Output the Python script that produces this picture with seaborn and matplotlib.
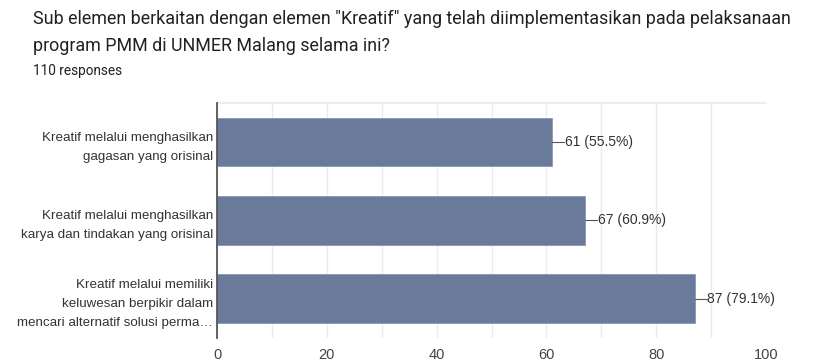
import matplotlib
matplotlib.use("Agg")
import matplotlib.pyplot as plt
import seaborn as sns
import pandas as pd

categories = [
    "Kreatif melalui menghasilkan\ngagasan yang orisinal",
    "Kreatif melalui menghasilkan\nkarya dan tindakan yang orisinal",
    "Kreatif melalui memiliki\nkeluwesan berpikir dalam\nmencari alternatif solusi perma\u2026",
]
counts = [61, 67, 87]
percents = ["55.5%", "60.9%", "79.1%"]
title_lines = [
    'Sub elemen berkaitan dengan elemen "Kreatif" yang telah diimplementasikan pada pelaksanaan',
    "program PMM di UNMER Malang selama ini?",
]
subtitle = "110 responses"

df = pd.DataFrame({"cat": categories, "count": counts})

sns.set_theme(style="white")
plt.rcParams["font.family"] = ["Liberation Sans", "DejaVu Sans"]

fig = plt.figure(figsize=(8.22, 3.61), dpi=100)
ax = fig.add_axes([0.264, 0.064, 0.668, 0.651])

sns.barplot(data=df, y="cat", x="count", orient="h", color="#6a7a9b",
            saturation=1, width=0.62, ax=ax, edgecolor="#8a98b5", linewidth=0.6, zorder=3)

ax.set_xlim(0, 100)
ax.set_ylim(2.5, -0.5)
ax.set_xticks([0, 20, 40, 60, 80, 100])
ax.set_xticks([10, 30, 50, 70, 90], minor=True)
ax.grid(axis="x", which="both", color="#ebebeb", linewidth=1, zorder=0)
ax.set_xlabel("")
ax.set_ylabel("")
for s in ["right", "bottom"]:
    ax.spines[s].set_visible(False)
ax.spines["top"].set_color("#ebebeb")
ax.spines["left"].set_color("#555555")
ax.spines["left"].set_linewidth(1.3)
ax.spines["left"].set_zorder(4)
ax.tick_params(axis="x", which="both", length=0, labelsize=10.5, colors="#444444", pad=7)
ax.tick_params(axis="y", length=0, labelsize=9.6, colors="#333333", pad=3)
for lab in ax.get_yticklabels():
    lab.set_linespacing(1.8)

for i, (c, p) in enumerate(zip(counts, percents)):
    ax.plot([c, c + 2.2], [i, i], color="#555555", linewidth=0.8, zorder=4)
    ax.text(c + 2.3, i, f"{c} ({p})", va="center", ha="left", fontsize=10, color="#333333")

fig.text(33 / 822, 1 - 19 / 361, title_lines[0], fontsize=12.85, color="#202124",
         va="center", ha="left", family=["Roboto", "DejaVu Sans"])
fig.text(33 / 822, 1 - 46 / 361, title_lines[1], fontsize=12.85, color="#202124",
         va="center", ha="left", family=["Roboto", "DejaVu Sans"])
fig.text(33 / 822, 1 - 71 / 361, subtitle, fontsize=9.8, color="#202124", va="center",
         ha="left", family=["Roboto", "DejaVu Sans"])

fig.savefig("out.png", dpi=100)
